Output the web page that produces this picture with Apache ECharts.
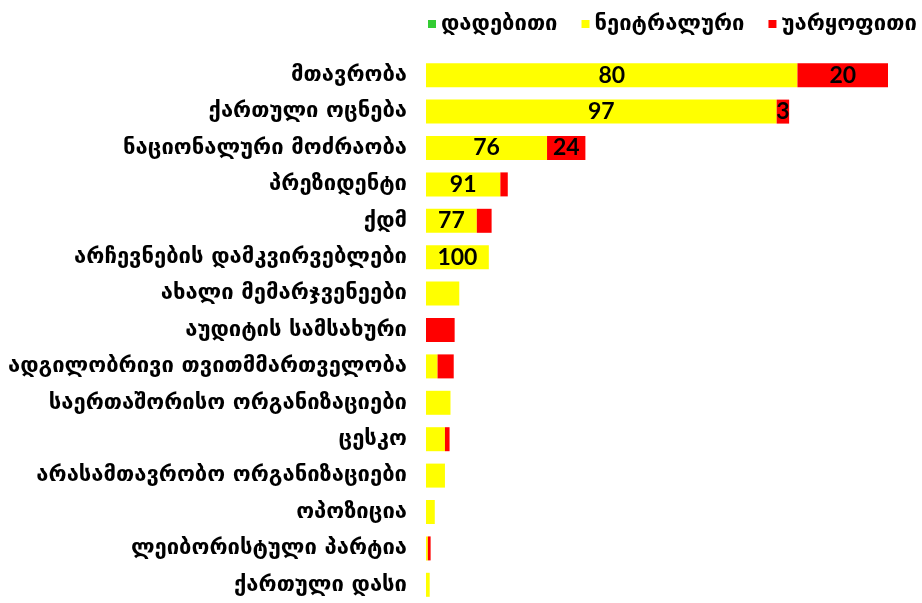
<!DOCTYPE html>
<html>
<head>
<meta charset="utf-8">
<script src="https://cdn.jsdelivr.net/npm/echarts@6/dist/echarts.min.js"></script>
<style>
    html, body { margin: 0; padding: 0; background: #fff; }
    #main { width: 922px; height: 603px; }
</style>
</head>
<body>
<div id="main"></div>
<script>
// კატეგორიები (ზემოდან ქვემოთ)
const categories = [
    'მთავრობა',
    'ქართული ოცნება',
    'ნაციონალური მოძრაობა',
    'პრეზიდენტი',
    'ქდმ',
    'არჩევნების დამკვირვებლები',
    'ახალი მემარჯვენეები',
    'აუდიტის სამსახური',
    'ადგილობრივი თვითმმართველობა',
    'საერთაშორისო ორგანიზაციები',
    'ცესკო',
    'არასამთავრობო ორგანიზაციები',
    'ოპოზიცია',
    'ლეიბორისტული პარტია',
    'ქართული დასი'
]

const seriesNames = ['დადებითი', 'ნეიტრალური', 'უარყოფითი']

// მნიშვნელობები (სურათიდან შეფასებული)
const positive = [0, 0, 0, 0, 0, 0, 0, 0, 0, 0, 0, 0, 0, 0, 0]
const neutral = [80.4, 75.9, 26.2, 16.1, 11.0, 13.6, 7.2, 0, 2.5, 5.3, 4.1, 4.1, 1.9, 0.4, 0.8]
const negative = [19.6, 2.7, 8.3, 1.6, 3.2, 0, 0, 6.2, 3.5, 0, 1.0, 0, 0, 0.6, 0]

// რამდენ ზედა სტრიქონს აქვს ლეიბლი
const neutralLabeledRows = 6
const negativeLabeledRows = 3

const totals = categories.map((c, i) => positive[i] + neutral[i] + negative[i])

function percentLabel(limit) {
    return function (p) {
        if (p.dataIndex >= limit || !p.value) return ''
        return Math.round(p.value / totals[p.dataIndex] * 100)
    }
}

const labelStyle = {
    show: true,
    position: 'inside',
    color: '#000',
    fontFamily: 'Lato',
    fontWeight: 'bold',
    fontSize: 23
}

var myChart = echarts.init(document.getElementById('main'))

var option = {
    animation: false,
    color: ['#33cc33', '#ffff00', '#ff0000'],
    legend: {
        data: seriesNames,
        left: 423,
        top: 8,
        itemWidth: 8,
        itemHeight: 8,
        itemGap: 24,
        icon: 'rect',
        textStyle: {
            fontFamily: 'DejaVu Sans',
            fontWeight: 'bold',
            fontSize: 22,
            color: '#000'
        }
    },
    grid: {
        left: 426,
        top: 57,
        width: 462,
        height: 550
    },
    xAxis: {
        type: 'value',
        min: 0,
        max: 100,
        show: false
    },
    yAxis: {
        type: 'category',
        data: categories,
        inverse: true,
        axisLine: { show: false },
        axisTick: { show: false },
        axisLabel: {
            margin: 19,
            color: '#000',
            fontFamily: 'DejaVu Sans',
            fontWeight: 'bold',
            fontSize: 22
        }
    },
    series: [
        {
            name: seriesNames[0],
            type: 'bar',
            stack: 'total',
            barWidth: 24,
            data: positive
        },
        {
            name: seriesNames[1],
            type: 'bar',
            stack: 'total',
            barWidth: 24,
            label: Object.assign({}, labelStyle, { formatter: percentLabel(neutralLabeledRows) }),
            data: neutral
        },
        {
            name: seriesNames[2],
            type: 'bar',
            stack: 'total',
            barWidth: 24,
            label: Object.assign({}, labelStyle, { formatter: percentLabel(negativeLabeledRows) }),
            data: negative
        }
    ]
}

myChart.setOption(option)
</script>
</body>
</html>
